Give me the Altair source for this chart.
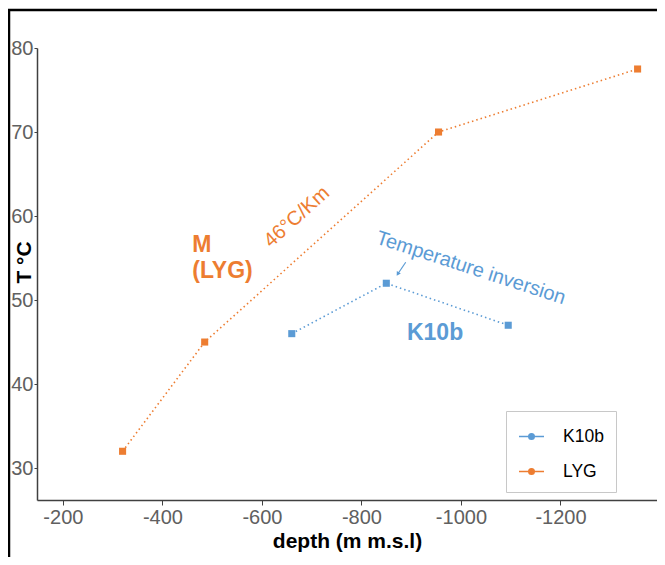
import altair as alt
import pandas as pd

# ---- data ----
series = ["LYG", "LYG", "LYG", "LYG", "K10b", "K10b", "K10b"]
depth = [-320, -485, -955, -1355, -660, -850, -1095]
temp = [32, 45, 70, 77.5, 46, 52, 47]

ann_text = ["M", "(LYG)", "46°C/Km", "Temperature inversion", "K10b"]
ann_depth = [-460, -460, -670, -1020, -948]
ann_temp = [56.5, 53.4, 59.9, 53.8, 46.1]

x_ticks = [-200, -400, -600, -800, -1000, -1200]
y_ticks = [30, 40, 50, 60, 70, 80]

ORANGE = "#ED7D31"
BLUE = "#5B9BD5"
FONT = "Liberation Sans"

df = pd.DataFrame({"series": series, "depth": depth, "temp": temp})
ann = pd.DataFrame({"text": ann_text, "depth": ann_depth, "temp": ann_temp})

xscale = alt.Scale(domain=[-1394, -148], reverse=True, nice=False, zero=False)
yscale = alt.Scale(domain=[26.2, 80], nice=False, zero=False)
color = alt.Color(
    "series:N",
    scale=alt.Scale(domain=["K10b", "LYG"], range=[BLUE, ORANGE]),
    legend=alt.Legend(
        orient="none", legendX=469, legendY=363, title=None,
        symbolType="M-1,0L1,0M0.22,0A0.22,0.22 0 1,1 -0.22,0A0.22,0.22 0 1,1 0.22,0Z",
        symbolSize=625, symbolStrokeWidth=1.5,
        labelFontSize=17.5, labelColor="black", labelFont=FONT,
        padding=12, rowPadding=13, labelOffset=18,
        strokeColor="#c8c8c8", fillColor="white",
    ),
)

x = alt.X(
    "depth:Q", scale=xscale,
    axis=alt.Axis(values=x_ticks, title="depth (m m.s.l)", grid=False,
                  labelExpr="'' + datum.value",
                  labelFontSize=20, labelColor="#606060", labelFont=FONT,
                  titleFontSize=21, titleFont=FONT, titleColor="black",
                  titleFontWeight="bold", titlePadding=3, labelPadding=2,
                  domainColor="#404040", domainWidth=1.5, tickColor="#404040",
                  tickSize=5, labelFlush=False),
)
y = alt.Y(
    "temp:Q", scale=yscale,
    axis=alt.Axis(values=y_ticks, title="T °C", grid=False,
                  labelFontSize=20, labelColor="#606060", labelFont=FONT,
                  titleFontSize=21, titleFont=FONT, titleColor="black",
                  titleFontWeight="bold", titleX=-13, titleY=214, titleAngle=270,
                  titleAlign="center", titleBaseline="middle",
                  labelPadding=1, domainColor="#404040", domainWidth=1.5,
                  tickColor="#404040", tickSize=3, labelFlush=False),
)

base = alt.Chart(df)
lines = base.mark_line(strokeDash=[1.5, 3], strokeWidth=1.6).encode(
    x=x, y=y, color=color, detail="series:N")
points = base.mark_point(shape="square", filled=True, size=50, opacity=1).encode(
    x=x, y=y, color=color)

def txt(i, **kw):
    return alt.Chart(ann.iloc[[i]]).mark_text(font=FONT, **kw).encode(
        x=alt.X("depth:Q", scale=xscale), y=alt.Y("temp:Q", scale=yscale), text="text:N")

t_m = txt(0, color=ORANGE, fontSize=23, fontWeight="bold", align="left", baseline="middle")
t_lyg = txt(1, color=ORANGE, fontSize=23, fontWeight="bold", align="left", baseline="middle")
t_grad = txt(2, color=ORANGE, fontSize=20, angle=318, align="center", baseline="middle")
t_inv = txt(3, color=BLUE, fontSize=20, angle=18, align="center", baseline="middle")
t_k10 = txt(4, color=BLUE, fontSize=23, fontWeight="bold", align="center", baseline="middle")

arrow_df = pd.DataFrame({"d1": [-889], "t1": [54.5], "d2": [-873], "t2": [53.1]})
arrow = alt.Chart(arrow_df).mark_rule(color=BLUE, strokeWidth=1.2).encode(
    x=alt.X("d1:Q", scale=xscale), y=alt.Y("t1:Q", scale=yscale),
    x2="d2:Q", y2="t2:Q")
head = alt.Chart(arrow_df).mark_point(shape="triangle-up", filled=True, size=22,
                                      color=BLUE, angle=212, opacity=1).encode(
    x=alt.X("d2:Q", scale=xscale), y=alt.Y("t2:Q", scale=yscale))

frame_top = alt.Chart(arrow_df).mark_rule(color="black", strokeWidth=2.5).encode(
    x=alt.value(-29), x2=alt.value(640), y=alt.value(-38))
frame_left = alt.Chart(arrow_df).mark_rule(color="black", strokeWidth=2.5).encode(
    x=alt.value(-28), y=alt.value(-38), y2=alt.value(520))

chart = alt.layer(
    frame_top, frame_left, lines, points, t_m, t_lyg, t_grad, t_inv, t_k10, arrow, head
).properties(
    width=620, height=452,
    padding={"left": 29, "top": 40, "right": 0, "bottom": 57},
    autosize=alt.AutoSizeParams(type="none"),
    background="white",
).configure_view(stroke=None)

chart.save("out.html", embed_options={"renderer": "svg", "actions": False})
